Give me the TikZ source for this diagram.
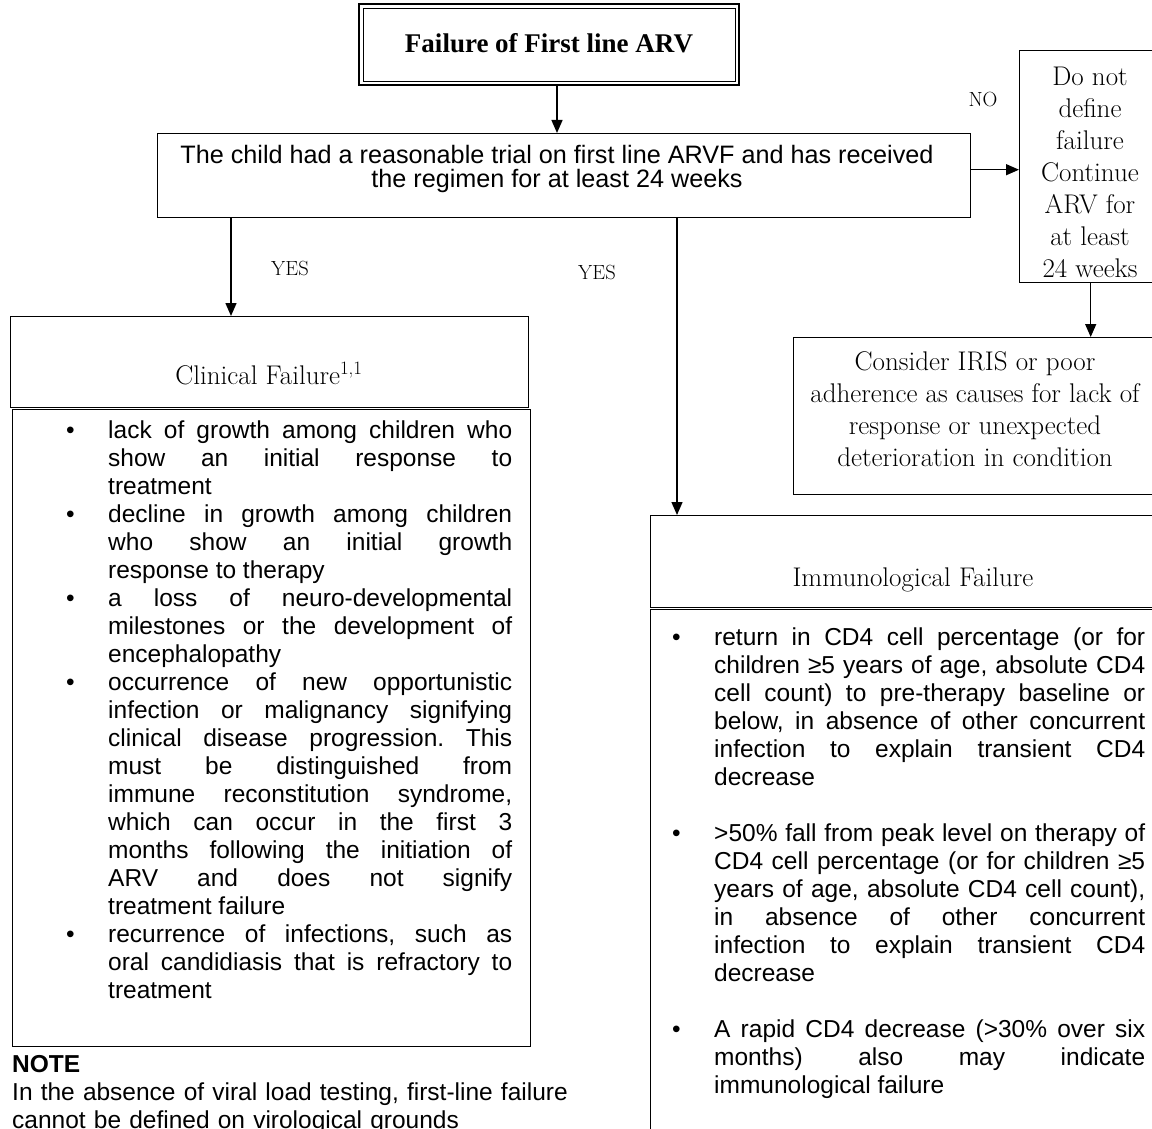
\documentclass[tikz,border=0pt]{standalone}
\usepackage{fontspec}
\usetikzlibrary{arrows.meta}
\newfontfamily\arialfont{Liberation Sans}
\newfontfamily\timesfont{Liberation Serif}

% body text: Arial-like, justified with the line breaks given explicitly
\newcommand\bodyfont{\arialfont\fontsize{24.5pt}{28pt}\selectfont}
\newcommand\justlines{\spaceskip=\fontdimen2\font plus 1fil\relax
  \xspaceskip=\spaceskip\frenchspacing
  \parfillskip=0pt plus 1fill\relax
  \tolerance=10000 \hyphenpenalty=10000 \exhyphenpenalty=10000 }
\newlength\bulind
\setlength\bulind{42pt}
\newcommand\bulpt[1]{\noindent\hangindent=\bulind\hangafter=1\relax
  \makebox[\bulind][l]{\strut\textbullet}#1\par}

% multi-line nodes below are placed by the baseline of their last line
\tikzset{
  box/.style={draw, line width=1.4pt, rectangle, inner sep=0pt, anchor=north west},
  arr/.style={line width=1.4pt, -{Triangle[length=13pt,width=11pt]}},
  serif/.style={font=\fontsize{27pt}{31.3pt}\selectfont, align=center, inner sep=0pt, anchor=base},
  lbl/.style={font=\fontsize{20.5pt}{22pt}\selectfont, inner sep=0pt},
  body/.style={font=\bodyfont, inner sep=0pt, anchor=north west},
}

\begin{document}
\begin{tikzpicture}[x=1pt, y=-1pt]
\useasboundingbox (0,0) rectangle (1152,1129);
\clip (0,0) rectangle (1152,1129);

% title box with a double frame
\node[box, line width=2pt, minimum width=380pt, minimum height=81pt] (first) at (358,3) {};
\draw[line width=0.9pt] ([shift={(5,5)}]first.north west) rectangle ([shift={(-5,-5)}]first.south east);
\node[font=\timesfont\bfseries\fontsize{27pt}{30pt}\selectfont, inner sep=0pt] (firstlbl) at ([yshift=1pt]first.center) {Failure of First line ARV};

% question box
\node[box, minimum width=813pt, minimum height=84pt] (trial) at (157,133) {};
\node[font=\arialfont\fontsize{25.2pt}{24pt}\selectfont, align=center, inner sep=0pt, anchor=base] (triallbl) at (557,187)
  {The child had a reasonable trial on first line ARVF and has received\\the regimen for at least 24 weeks};

% NO branch
\node[box, minimum width=165pt, minimum height=232pt] (keep) at (1019,50) {};
\node[serif, font=\fontsize{27pt}{32pt}\selectfont] (keeplbl) at (1090,277) {Do not\\define\\failure\\Continue\\ARV for\\at least\\24 weeks};
\node[box, minimum width=390pt, minimum height=157pt] (iris) at (793,337) {};
\node[serif, font=\fontsize{27pt}{31.7pt}\selectfont] (irislbl) at (975,466)
  {Consider IRIS or poor\\adherence as causes for lack of\\response or unexpected\\deterioration in condition};
\node[lbl] (nolbl) at (983,100) {NO};

% clinical failure
\node[box, minimum width=518pt, minimum height=91pt] (clin) at (10,316) {};
\node[serif] (clinlbl) at (269,384) {Clinical Failure\textsuperscript{1,1}};
\node[box, minimum width=518pt, minimum height=637pt] (clinlist) at (12,409) {};
\node[body, text width=446pt] (clintext) at (66,419) {\justlines
\bulpt{lack of growth among children who\linebreak show an initial response to\linebreak treatment}
\bulpt{decline in growth among children\linebreak who show an initial growth\linebreak response to therapy}
\bulpt{a loss of neuro-developmental\linebreak milestones or the development of\linebreak encephalopathy}
\bulpt{occurrence of new opportunistic\linebreak infection or malignancy signifying\linebreak clinical disease progression. This\linebreak must be distinguished from\linebreak immune reconstitution syndrome,\linebreak which can occur in the first 3\linebreak months following the initiation of\linebreak ARV and does not signify\linebreak treatment failure}
\bulpt{recurrence of infections, such as\linebreak oral candidiasis that is refractory to\linebreak treatment}};
\node[lbl] (yesleft) at (290,268) {YES};

% note under the clinical box
\node[body, text width=640pt] (note) at (12,1052.4) {\strut\textbf{NOTE}\\
In the absence of viral load testing, first-line failure\\
cannot be defined on virological grounds};

% immunological failure
\node[box, minimum width=526pt, minimum height=92pt] (immu) at (650,515) {};
\node[serif] (immulbl) at (913,586) {Immunological Failure};
\node[box, minimum width=526pt, minimum height=540pt] (immulist) at (650,609) {};
\node[body, text width=473pt] (immutext) at (672,626) {\justlines
\bulpt{return in CD4 cell percentage (or for\linebreak children ≥5 years of age, absolute CD4\linebreak cell count) to pre-therapy baseline or\linebreak below, in absence of other concurrent\linebreak infection to explain transient CD4\linebreak decrease}
\vspace{28pt}
\bulpt{>50\% fall from peak level on therapy of\linebreak CD4 cell percentage (or for children ≥5\linebreak years of age, absolute CD4 cell count),\linebreak in absence of other concurrent\linebreak infection to explain transient CD4\linebreak decrease}
\vspace{28pt}
\bulpt{A rapid CD4 decrease (>30\% over six\linebreak months) also may indicate\linebreak immunological failure}};
\node[lbl] (yesright) at (597,272) {YES};

% connectors
\draw[arr] ([xshift=8pt]first.south) -- ([xshift=8pt]first.south |- trial.north);
\draw[arr] ([yshift=6pt]trial.east) -- ([yshift=6pt]trial.east -| keep.west);
\draw[arr] ([xshift=-11.5pt]keep.south) -- ([xshift=-11.5pt]keep.south |- iris.north);
\draw[arr] ([xshift=74pt]trial.south west) -- ([xshift=74pt]trial.south west |- clin.north);
\draw[arr] ([xshift=520pt]trial.south west) -- ([xshift=520pt]trial.south west |- immu.north);
\end{tikzpicture}
\end{document}
